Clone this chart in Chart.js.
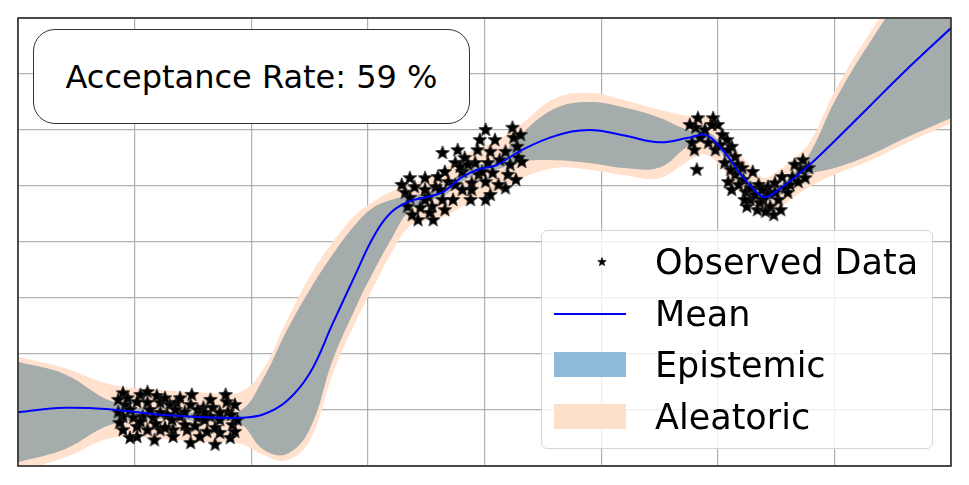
<!DOCTYPE html>
<html>
<head>
<meta charset="utf-8">
<script src="https://cdn.jsdelivr.net/npm/chart.js@4.4.1/dist/chart.umd.min.js"></script>
<style>
  body { margin: 0; background: #fff; overflow: hidden; }
  #wrap { position: relative; width: 969px; height: 485px; font-family: "DejaVu Sans", sans-serif; }
  #rateBox {
    position: absolute; left: 33px; top: 29px; width: 435px; height: 93px;
    border: 1.5px solid #333; border-radius: 22px; background: #fff;
    display: flex; align-items: center; justify-content: center;
    font-size: 32px; color: #000;
  }
  #legendBox {
    position: absolute; left: 541px; top: 230px; width: 390px; height: 217px;
    border: 1.5px solid #d6d6d6; border-radius: 6px; background: rgba(255,255,255,0.8);
  }
  .row { position: absolute; left: 0; height: 40px; width: 100%; }
  .row .key { position: absolute; left: 12px; top: 0; width: 72px; height: 40px; }
  .row .lbl { position: absolute; left: 113px; top: 0; line-height: 40px; font-size: 35px; color: #000; white-space: nowrap; }
</style>
</head>
<body>
<div id="wrap">
  <canvas id="gpChart"></canvas>
  <div id="rateBox">Acceptance Rate: 59 %</div>
  <div id="legendBox"></div>
</div>
<script>
// x positions shared by the mean and both bands
const xs       = [0, 0.4, 0.8, 1.2, 1.6, 1.9, 2.1, 2.3, 2.5, 2.7, 2.9, 3.05, 3.2, 3.35, 3.5, 3.65, 3.8, 3.95, 4.1, 4.3, 4.6, 4.9, 5.2, 5.5, 5.75, 5.9, 6.05, 6.2, 6.3, 6.4, 6.5, 6.65, 6.8, 7.0, 7.3, 7.6, 8.0];
const meanY    = [0.96, 1.04, 1.01, 0.92, 0.87, 0.86, 0.92, 1.15, 1.65, 2.55, 3.45, 4.10, 4.53, 4.72, 4.80, 4.90, 5.15, 5.30, 5.37, 5.62, 5.89, 6.00, 5.90, 5.78, 5.86, 5.91, 5.62, 5.20, 4.96, 4.80, 4.90, 5.14, 5.40, 5.80, 6.42, 7.04, 7.82];
const epiLow   = [0.07, 0.30, 0.74, 0.84, 0.79, 0.76, 0.30, 0.21, 0.65, 1.90, 2.85, 3.48, 4.05, 4.55, 4.72, 4.82, 5.07, 5.22, 5.29, 5.43, 5.46, 5.41, 5.32, 5.33, 5.72, 5.83, 5.54, 5.12, 4.88, 4.72, 4.82, 5.06, 5.22, 5.32, 5.55, 5.85, 6.21];
const epiHigh  = [1.86, 1.64, 1.16, 1.00, 0.95, 0.98, 1.55, 2.40, 3.14, 3.78, 4.33, 4.62, 4.75, 4.82, 4.88, 4.98, 5.23, 5.38, 5.45, 5.90, 6.38, 6.50, 6.40, 6.22, 6.00, 5.99, 5.70, 5.28, 5.04, 4.88, 4.98, 5.22, 5.62, 6.50, 7.55, 8.40, 9.00];
const aleaLow  = [-0.10, 0.15, 0.50, 0.48, 0.43, 0.40, 0.20, 0.10, 0.45, 1.65, 2.60, 3.20, 3.80, 4.27, 4.38, 4.45, 4.62, 4.78, 4.88, 5.12, 5.32, 5.29, 5.19, 5.14, 5.45, 5.56, 5.28, 4.86, 4.62, 4.46, 4.56, 4.80, 5.00, 5.20, 5.45, 5.75, 6.12];
const aleaHigh = [1.95, 1.75, 1.45, 1.36, 1.31, 1.32, 1.72, 2.58, 3.38, 4.00, 4.50, 4.72, 4.90, 5.00, 5.15, 5.30, 5.52, 5.68, 5.80, 6.08, 6.56, 6.66, 6.53, 6.36, 6.25, 6.25, 5.98, 5.56, 5.32, 5.14, 5.25, 5.48, 5.82, 6.68, 7.72, 8.55, 9.20];

// observed points (three clusters)
const obsX = [
  0.90, 1.05, 1.19, 0.92, 1.02, 1.11, 1.22, 1.30, 1.36, 1.48, 1.59, 1.67, 1.79, 1.80, 0.90, 0.99, 1.07, 1.16, 1.28, 1.39,
  1.54, 1.65, 1.73, 0.90, 1.02, 1.11, 1.22, 1.33, 1.45, 1.62, 1.73, 1.82, 1.02, 1.33, 1.48, 1.69, 0.96, 1.13, 1.54, 1.73,
  1.26, 1.43, 1.60, 1.83, 0.87, 1.18, 1.52, 1.84, 0.94, 1.32,
  0.86, 1.11, 1.39, 1.65, 1.86, 0.86, 1.22, 1.60, 1.05, 1.43, 1.69, 1.86, 0.96, 1.17, 1.56, 1.26, 1.78, 1.49, 1.35, 1.88,
  4.01, 4.24, 4.25, 3.64, 3.94, 4.05, 4.18, 4.29, 3.83, 3.75, 3.66, 3.60, 3.92, 4.03, 3.81, 3.95, 4.07, 4.20, 3.89, 4.01,
  4.18, 3.36, 3.40, 3.49, 3.58, 3.69, 3.32, 3.36, 3.52, 3.64, 3.73, 3.89, 4.01, 3.34, 3.45, 3.55, 3.43, 3.56, 3.79, 4.13,
  4.28, 4.32,
  3.29, 3.38, 3.49, 3.53, 3.62, 3.75, 3.77, 3.86, 3.96, 4.09, 4.12, 4.22, 4.31, 4.27, 3.88, 4.05, 3.66, 3.81, 3.98, 3.49,
  5.83, 5.96, 6.00, 5.81, 5.89, 6.04, 5.78, 5.92, 6.08, 6.12, 5.98, 6.15, 6.06, 6.17, 5.82, 6.30, 6.15, 6.22, 6.09, 6.12,
  6.24, 6.35, 6.43, 6.28, 6.25, 6.34, 6.45, 6.48, 6.39, 6.52, 6.58, 6.55, 6.64, 6.71, 6.73, 6.66, 6.60, 6.43, 6.36, 6.49,
  5.76, 5.85, 5.95, 6.02, 6.09, 6.21, 6.11, 6.18, 6.28, 6.32, 6.41, 6.54, 6.62, 6.69, 6.78, 6.75, 6.49, 6.38, 6.23, 5.80
];
const obsY = [
  1.30, 1.27, 1.25, 1.09, 1.14, 1.13, 1.13, 1.09, 1.13, 1.09, 1.04, 1.04, 1.14, 0.96, 0.88, 0.86, 0.88, 0.86, 0.91, 0.88,
  0.86, 0.88, 0.82, 0.64, 0.70, 0.64, 0.64, 0.64, 0.64, 0.61, 0.59, 0.50, 0.52, 0.52, 0.41, 0.38, 1.00, 1.00, 1.00, 0.95,
  1.21, 0.96, 0.82, 0.91, 0.77, 0.75, 0.71, 0.73, 1.21, 0.82,
  1.18, 1.32, 1.21, 1.18, 1.09, 0.96, 0.95, 0.95, 0.79, 0.73, 0.68, 0.61, 0.50, 0.46, 0.52, 0.68, 1.27, 1.27, 1.00, 0.82,
  6.00, 6.04, 5.86, 5.59, 5.64, 5.61, 5.61, 5.50, 5.50, 5.41, 5.25, 5.16, 5.41, 5.41, 5.25, 5.20, 5.23, 5.20, 5.05, 5.07,
  4.96, 5.14, 4.98, 4.93, 4.98, 5.07, 4.88, 4.79, 4.80, 4.75, 4.75, 4.93, 4.75, 4.63, 4.61, 4.63, 4.39, 4.39, 5.34, 5.46,
  5.70, 5.43,
  5.02, 4.48, 5.14, 4.52, 4.93, 5.02, 5.64, 5.38, 5.82, 5.82, 5.02, 5.38, 5.91, 5.11, 4.75, 4.84, 4.57, 4.93, 5.25, 4.75,
  6.21, 6.21, 6.09, 6.04, 6.00, 5.91, 5.77, 5.77, 5.82, 5.70, 5.64, 5.52, 5.41, 5.38, 5.29, 5.25, 5.20, 5.11, 5.07, 4.93,
  4.89, 5.02, 4.88, 4.75, 4.63, 4.57, 4.63, 4.48, 4.75, 4.75, 4.96, 5.16, 5.16, 5.29, 5.46, 5.38, 4.88, 4.98, 4.70, 5.05,
  6.09, 5.86, 6.09, 5.73, 5.64, 5.32, 5.29, 5.02, 4.96, 4.84, 4.54, 4.57, 5.02, 5.07, 5.32, 5.14, 4.88, 4.93, 4.75, 5.64
];

const acceptanceRate = 59;

// filled star marker, like matplotlib '*'
function makeStar(r) {
  const c = document.createElement('canvas');
  const s = Math.ceil(r * 2 + 3);
  c.width = s; c.height = s;
  const g = c.getContext('2d');
  g.translate(s / 2, s / 2);
  g.beginPath();
  for (let i = 0; i < 10; i++) {
    const rad = i % 2 === 0 ? r : r * 0.42;
    const a = -Math.PI / 2 + i * Math.PI / 5;
    g.lineTo(rad * Math.cos(a), rad * Math.sin(a));
  }
  g.closePath();
  g.fillStyle = '#000';
  g.fill();
  g.strokeStyle = '#222';
  g.lineWidth = 0.8;
  g.stroke();
  return c;
}

const pts = (ys) => xs.map((x, i) => ({ x: x, y: ys[i] }));
const observed = obsX.map((x, i) => ({ x: x, y: obsY[i] }));

const peach = '#ffe1cd';
const greyBand = '#a4acac';

// frame around the plot area
const framePlugin = {
  id: 'frame',
  afterDatasetsDraw(chart) {
    const a = chart.chartArea, c = chart.ctx;
    c.save();
    c.strokeStyle = '#2a2a2a';
    c.lineWidth = 1.6;
    c.strokeRect(a.left, a.top, a.right - a.left, a.bottom - a.top);
    c.restore();
  }
};

const ctx = document.getElementById('gpChart').getContext('2d');
const gpChart = new Chart(ctx, {
  type: 'line',
  data: {
    datasets: [
      { label: 'Aleatoric', data: pts(aleaHigh), fill: '+1', backgroundColor: peach, borderWidth: 0, pointRadius: 0, tension: 0.4, order: 6 },
      { label: 'aleaLow', data: pts(aleaLow), fill: false, borderWidth: 0, pointRadius: 0, tension: 0.4, order: 5 },
      { label: 'Epistemic', data: pts(epiHigh), fill: '+1', backgroundColor: greyBand, borderWidth: 0, pointRadius: 0, tension: 0.4, order: 4 },
      { label: 'epiLow', data: pts(epiLow), fill: false, borderWidth: 0, pointRadius: 0, tension: 0.4, order: 3 },
      { label: 'Observed Data', data: observed, showLine: false, pointStyle: makeStar(7.2), pointRadius: 7, order: 2 },
      { label: 'Mean', data: pts(meanY), borderColor: '#0000ff', borderWidth: 2, pointRadius: 0, fill: false, tension: 0.4, order: 1 }
    ]
  },
  options: {
    responsive: true,
    maintainAspectRatio: false,
    animation: false,
    layout: { padding: { left: 18, top: 18, right: 18, bottom: 19 } },
    plugins: { legend: { display: false }, tooltip: { enabled: false } },
    scales: {
      x: {
        type: 'linear', min: 0, max: 8,
        ticks: { display: false, stepSize: 1 },
        grid: { color: '#b0b0b0', lineWidth: 1.2, drawTicks: false },
        border: { display: false }
      },
      y: {
        type: 'linear', min: 0, max: 8,
        ticks: { display: false, stepSize: 1 },
        grid: { color: '#b0b0b0', lineWidth: 1.2, drawTicks: false },
        border: { display: false }
      }
    }
  },
  plugins: [framePlugin]
});

document.getElementById('rateBox').textContent = 'Acceptance Rate: ' + acceptanceRate + ' %';

// legend built from the chart's datasets
const legendBox = document.getElementById('legendBox');
const legendItems = [
  { ds: 4, kind: 'star' },
  { ds: 5, kind: 'line' },
  { ds: 2, kind: 'box', color: '#8fbad9' },
  { ds: 0, kind: 'box', color: '#fde0ca' }
];
legendItems.forEach((item, i) => {
  const ds = gpChart.data.datasets[item.ds];
  const row = document.createElement('div');
  row.className = 'row';
  row.style.top = (11 + i * 51.5) + 'px';
  const key = document.createElement('div');
  key.className = 'key';
  if (item.kind === 'star') {
    const s = makeStar(4.5);
    s.style.position = 'absolute';
    s.style.left = (48 - s.width / 2) + 'px';
    s.style.top = (20 - s.height / 2) + 'px';
    key.appendChild(s);
  } else if (item.kind === 'line') {
    key.style.background = 'linear-gradient(to bottom, transparent 19px, ' + ds.borderColor + ' 19px, ' + ds.borderColor + ' 21px, transparent 21px)';
  } else {
    key.style.top = '7px';
    key.style.height = '25px';
    key.style.background = item.color;
  }
  const lbl = document.createElement('div');
  lbl.className = 'lbl';
  lbl.textContent = ds.label;
  row.appendChild(key);
  row.appendChild(lbl);
  legendBox.appendChild(row);
});
</script>
</body>
</html>
